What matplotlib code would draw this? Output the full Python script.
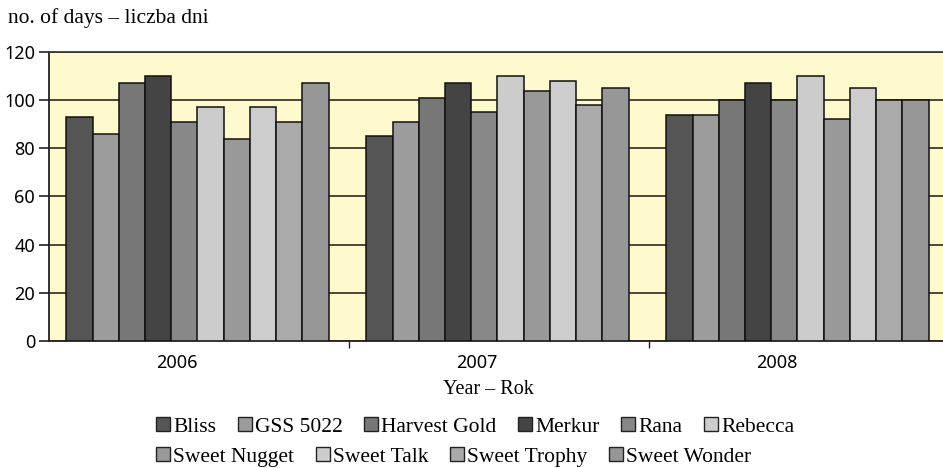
import matplotlib
matplotlib.use("Agg")
import matplotlib.pyplot as plt
import numpy as np
from matplotlib.patches import Patch

plt.rcParams['font.family'] = ['Liberation Serif', 'DejaVu Serif']

years = ["2006", "2007", "2008"]
varieties = ["Bliss", "GSS 5022", "Harvest Gold", "Merkur", "Rana", "Rebecca",
             "Sweet Nugget", "Sweet Talk", "Sweet Trophy", "Sweet Wonder"]
bliss = [93, 85, 94]
gss5022 = [86, 91, 94]
harvest_gold = [107, 101, 100]
merkur = [110, 107, 107]
rana = [91, 95, 100]
rebecca = [97, 110, 110]
sweet_nugget = [84, 104, 92]
sweet_talk = [97, 108, 105]
sweet_trophy = [91, 98, 100]
sweet_wonder = [107, 105, 100]
series = [bliss, gss5022, harvest_gold, merkur, rana, rebecca,
          sweet_nugget, sweet_talk, sweet_trophy, sweet_wonder]
colors = ["#555555", "#9c9c9c", "#777777", "#444444", "#888888", "#cccccc",
          "#999999", "#cdcdcd", "#aaaaaa", "#979797"]
yticks = [0, 20, 40, 60, 80, 100, 120]

W, H = 943, 468
fig = plt.figure(figsize=(W / 100, H / 100), dpi=100)
ax = fig.add_axes([49 / W, 1 - 341 / H, 900 / W, (341 - 52) / H])
ax.set_facecolor("#fffacd")

x = np.arange(len(years))
n = len(series)
bw = 0.874 / n
for i, (vals, c) in enumerate(zip(series, colors)):
    ax.bar(x - 0.874 / 2 + bw * (i + 0.5) - 0.005, vals, width=bw, color=c,
           edgecolor="#111111", linewidth=1.1, zorder=3)

num_font = dict(family=["Noto Sans", "DejaVu Sans"], size=13)
ax.set_xlim(-0.5, 2.5)
ax.set_ylim(0, 120)
ax.set_yticks(yticks)
ax.set_yticklabels([str(v) for v in yticks], fontdict=num_font)
ax.yaxis.grid(True, color="#3a3a2e", linewidth=1.3, zorder=1)
ax.set_axisbelow(True)
ax.set_xticks(x - 0.075)
ax.set_xticklabels(years, fontdict=num_font)
ax.set_xticks([0.5, 1.5], minor=True)
ax.tick_params(axis="x", which="major", length=0, pad=9)
ax.tick_params(axis="x", which="minor", length=5, width=1.0, direction="out", color="#222222")
ax.tick_params(axis="y", length=7, width=1.2, direction="out", color="#222222", pad=3)
ax.spines["right"].set_visible(False)
for s in ["left", "bottom", "top"]:
    ax.spines[s].set_color("#222222")
    ax.spines[s].set_linewidth(1.3)
ax.spines["top"].set_color("#3a3a2e")

ax.set_xlabel("Year – Rok", fontsize=14.5, labelpad=10)
ax.xaxis.set_label_coords(0.488, -0.135)
fig.text(8 / W, 1 - 18 / H, "no. of days – liczba dni", fontsize=15.5, va="center", ha="left")

handles = [Patch(facecolor=c, edgecolor="#222222", linewidth=1.0) for c in colors]
leg_kw = dict(frameon=False, fontsize=15.5, handlelength=0.65, handleheight=0.65,
              handletextpad=0.15, columnspacing=1.0, borderpad=0, borderaxespad=0)
l1 = fig.legend(handles[:6], varieties[:6], ncol=6, loc="center left",
                bbox_to_anchor=(156 / W, 1 - 427 / H), **leg_kw)
l2 = fig.legend(handles[6:], varieties[6:], ncol=4, loc="center left",
                bbox_to_anchor=(156 / W, 1 - 457 / H), **leg_kw)

fig.savefig("out.png", dpi=100)
